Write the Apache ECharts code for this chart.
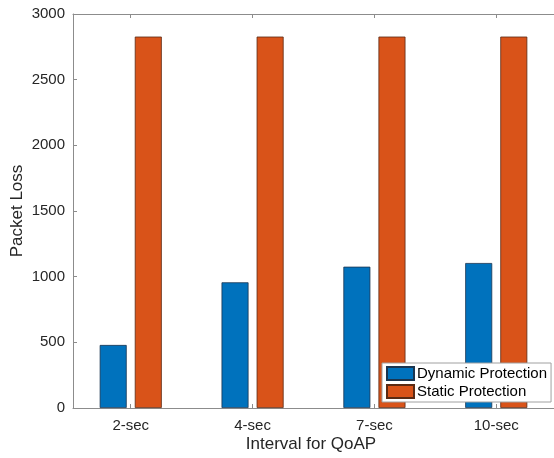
<!DOCTYPE html>
<html>
<head>
<meta charset="utf-8">
<script src="https://cdn.jsdelivr.net/npm/echarts@6/dist/echarts.min.js"></script>
<style>html,body{margin:0;padding:0;background:#fff;}#c{width:554px;height:458px;}</style>
</head>
<body>
<div id="c"></div>
<script>
const categories = ['2-sec', '4-sec', '7-sec', '10-sec'];
const categoryPositions = [1, 2, 3, 4];
const dynamicProtection = [480, 957, 1076, 1104];
const staticProtection = [2828, 2828, 2828, 2828];
const yTicks = [0, 500, 1000, 1500, 2000, 2500, 3000];

const FONT = '"Liberation Sans", Arial, Helvetica, sans-serif';
const AXIS = '#8c8c8c';
const TXT = '#262626';

const chart = echarts.init(document.getElementById('c'), null, {renderer: 'canvas'});

function pairs(vals) { return vals.map((v, i) => [categoryPositions[i], v]); }

const xBase = {
  type: 'value', min: 0.526, max: 4.474, gridIndex: 0,
  axisLine: {show: true, lineStyle: {color: AXIS, width: 1}},
  axisTick: {show: true, inside: true, length: 4, lineStyle: {color: AXIS}, customValues: categoryPositions},
  splitLine: {show: false}
};

chart.setOption({
  animation: false,
  backgroundColor: '#fff',
  textStyle: {fontFamily: FONT},
  grid: {left: 73, top: 14, width: 484, height: 394, containLabel: false},
  xAxis: [
    Object.assign({}, xBase, {
      position: 'bottom',
      axisLabel: {show: true, customValues: categoryPositions, color: TXT, fontSize: 15, fontFamily: FONT, margin: 10,
        formatter: v => categories[categoryPositions.indexOf(Math.round(v))] || ''}
    }),
    Object.assign({}, xBase, {
      position: 'top',
      axisLabel: {show: false}
    })
  ],
  yAxis: {
    type: 'value', min: 0, max: 3000, interval: 500,
    axisLine: {show: true, lineStyle: {color: AXIS, width: 1}},
    axisTick: {show: true, inside: true, length: 4, lineStyle: {color: AXIS}},
    axisLabel: {color: TXT, fontSize: 15, fontFamily: FONT, margin: 8,
      formatter: v => yTicks.includes(v) ? String(v) : ''},
    splitLine: {show: false}
  },
  legend: {
    orient: 'vertical', left: 382, top: 363,
    padding: [3, 4, 3, 4], itemGap: 3, itemWidth: 27, itemHeight: 13,
    backgroundColor: '#fff', borderColor: '#a0a0a0', borderWidth: 1, borderRadius: 0,
    textStyle: {color: '#000', fontSize: 15, fontFamily: FONT, padding: [0, 0, 0, -2]},
    icon: 'rect',
    data: ['Dynamic Protection', 'Static Protection']
  },
  graphic: [
    {type: 'text', x: 311, y: 444, style: {text: 'Interval for QoAP', fill: TXT, font: '17px ' + FONT, textAlign: 'center', textVerticalAlign: 'middle'}},
    {type: 'text', x: 17, y: 211, rotation: Math.PI / 2, style: {text: 'Packet Loss', fill: TXT, font: '17px ' + FONT, textAlign: 'center', textVerticalAlign: 'middle'}}
  ],
  series: [
    {name: 'Dynamic Protection', type: 'bar', xAxisIndex: 0, data: pairs(dynamicProtection),
      barWidth: 27, barGap: '30%',
      itemStyle: {color: '#0072BD', borderColor: '#1a3550', borderWidth: 0.8}},
    {name: 'Static Protection', type: 'bar', xAxisIndex: 0, data: pairs(staticProtection),
      barWidth: 27, barGap: '30%',
      itemStyle: {color: '#D95319', borderColor: '#5a2a14', borderWidth: 0.8}}
  ]
});
</script>
</body>
</html>
